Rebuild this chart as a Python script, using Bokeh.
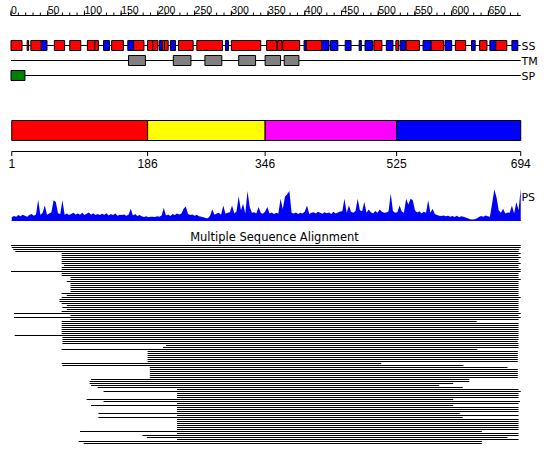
from bokeh.plotting import figure
from bokeh.models import Range1d, ColumnDataSource
from bokeh.embed import file_html
from bokeh.resources import INLINE
from bokeh.core.properties import value

SEQ_LEN = 694

# ---------------- data ----------------
ruler_minor = list(range(0, 700, 10))
ruler_major = list(range(0, 700, 50))

ss_start = [1, 23, 28, 42, 60, 81, 105, 115, 127, 138, 160, 168, 187, 194, 203, 207, 210, 218,
            229, 254, 293, 301, 349, 364, 371, 400, 403, 424, 436, 456, 475, 483, 495, 512,
            525, 531, 539, 562, 573, 592, 606, 628, 639, 653, 661, 683]
ss_end = [15, 24, 42, 49, 73, 95, 115, 119, 134, 153, 168, 181, 194, 200, 206, 210, 214, 224,
          248, 288, 296, 340, 362, 369, 393, 403, 424, 433, 445, 463, 477, 492, 505, 520,
          528, 537, 556, 572, 589, 600, 619, 632, 648, 661, 675, 690]
ss_type = ["H", "H", "H", "E", "H", "H", "H", "H", "E", "H", "E", "H", "H", "H", "E", "H", "H", "E",
           "H", "H", "E", "H", "H", "H", "H", "E", "H", "E", "E", "E", "E", "E", "H", "E",
           "H", "E", "H", "E", "H", "E", "H", "E", "H", "E", "H", "E"]

tm_start = [161, 222, 265, 311, 347, 373]
tm_end = [183, 245, 287, 333, 367, 392]

sp_start = [1]
sp_end = [19]

dom_start = [1, 186, 346, 525]
dom_end = [186, 346, 525, 694]
dom_color = ["#FF0000", "#FFFF00", "#FF00FF", "#0000FF"]
dom_ticks = [1, 186, 346, 525, 694]

ps_pos = list(range(1, 695, 3))
ps_val = [10, 14, 12, 17, 13, 18, 15, 12, 17, 20,
          15, 19, 65, 17, 24, 47, 18, 22, 26, 63,
          58, 23, 20, 63, 18, 22, 17, 20, 24, 19,
          22, 18, 24, 17, 21, 25, 18, 23, 17, 20,
          17, 21, 18, 23, 16, 20, 17, 22, 15, 18,
          17, 19, 15, 18, 37, 16, 20, 14, 17, 13,
          11, 13, 10, 12, 12, 11, 13, 12, 16, 39,
          16, 19, 14, 20, 17, 22, 19, 22, 37, 44,
          20, 17, 19, 15, 18, 13, 12, 10, 8, 7,
          15, 35, 18, 22, 24, 18, 47, 21, 24, 26,
          47, 22, 28, 76, 32, 52, 22, 92, 42, 24,
          26, 22, 42, 24, 21, 28, 42, 22, 25, 20,
          24, 22, 68, 36, 74, 82, 92, 24, 22, 25,
          20, 24, 22, 28, 47, 20, 24, 26, 22, 27,
          24, 21, 26, 23, 25, 20, 27, 22, 25, 28,
          29, 68, 24, 47, 27, 24, 30, 68, 32, 29,
          58, 24, 34, 26, 22, 30, 24, 34, 27, 24,
          25, 28, 84, 30, 24, 26, 47, 28, 24, 68,
          50, 68, 63, 32, 25, 29, 22, 27, 24, 63,
          24, 37, 20, 17, 15, 14, 16, 13, 15, 12,
          14, 11, 15, 10, 13, 12, 9, 7, 4, 3,
          4, 6, 11, 14, 12, 16, 13, 12, 52, 97,
          73, 32, 24, 37, 22, 25, 24, 47, 22, 58,
          32, 100]

msa_start = [1, 2, 4, 7, 70, 70, 70, 70, 70, 70,
             73, 70, 70, 1, 70, 70, 82, 82, 77, 82,
             82, 82, 82, 82, 70, 77, 70, 67, 67, 70,
             77, 71, 77, 70, 5, 82, 5, 82, 70, 70,
             70, 70, 70, 70, 70, 6, 71, 71, 71, 71,
             212, 208, 70, 187, 187, 187, 187, 187, 187, 70,
             71, 190, 190, 190, 190, 190, 190, 110, 108, 108,
             110, 119, 227, 127, 227, 227, 227, 104, 127, 227,
             110, 227, 227, 227, 120, 227, 120, 227, 227, 227,
             227, 227, 227, 95, 227, 180, 186, 227, 93, 100]
msa_end = [694, 694, 692, 691, 694, 691, 694, 691, 691, 694,
           691, 691, 694, 694, 691, 691, 691, 694, 691, 691,
           691, 691, 691, 691, 691, 691, 694, 691, 691, 691,
           691, 691, 691, 691, 694, 691, 694, 691, 634, 691,
           691, 691, 691, 691, 691, 691, 691, 691, 690, 691,
           691, 691, 635, 690, 690, 690, 690, 690, 690, 504,
           616, 676, 690, 690, 690, 690, 690, 624, 624, 602,
           583, 615, 691, 694, 691, 691, 691, 602, 693, 691,
           602, 691, 691, 691, 611, 691, 615, 691, 691, 691,
           691, 691, 691, 641, 691, 691, 676, 691, 641, 641]

# ---------------- figure ----------------
W, H = 548, 460
p = figure(width=W, height=H, output_backend="svg", toolbar_location=None,
           x_range=Range1d(-14.3, 731.8), y_range=Range1d(H, 0),
           min_border=0, outline_line_color=None)
p.axis.visible = False
p.grid.visible = False
p.background_fill_color = "white"
p.border_fill_color = "white"

p.extra_y_ranges = {"ps": Range1d(-750, 687.5), "msa": Range1d(107.5, -122.5)}

FONT = value("Liberation Sans")
FONT2 = value("DejaVu Sans")

# ruler
p.segment(x0=[0], y0=[15], x1=[SEQ_LEN], y1=[15], line_color="black", line_width=1)
p.segment(x0=ruler_minor, y0=[12] * len(ruler_minor), x1=ruler_minor, y1=[15] * len(ruler_minor),
          line_color="black", line_width=1)
p.segment(x0=ruler_major, y0=[10] * len(ruler_major), x1=ruler_major, y1=[15] * len(ruler_major),
          line_color="black", line_width=1)
p.text(x=ruler_major, y=[9.5] * len(ruler_major), text=[str(v) for v in ruler_major],
       text_font=FONT, text_font_size="10.5px", text_align="left",
       text_baseline="alphabetic", text_color="black")

# tracks
track_y = {"SS": 45, "TM": 60, "SP": 75}
for name, yy in track_y.items():
    p.segment(x0=[0], y0=[yy], x1=[SEQ_LEN], y1=[yy], line_color="black", line_width=1)
    p.text(x=[SEQ_LEN + 1], y=[yy + 0.5], text=[name], text_font=FONT2, text_font_size="11px",
           text_align="left", text_baseline="middle", text_color="black")

ss_src = ColumnDataSource(dict(
    left=[s - 1 for s in ss_start], right=ss_end,
    top=[track_y["SS"] - 5] * len(ss_start), bottom=[track_y["SS"] + 5] * len(ss_start),
    color=["#FF0000" if t == "H" else "#0000FF" for t in ss_type]))
p.quad(left="left", right="right", top="top", bottom="bottom", fill_color="color",
       line_color="black", line_width=1, source=ss_src)

p.quad(left=[s - 1 for s in tm_start], right=tm_end, top=[track_y["TM"] - 5] * len(tm_start),
       bottom=[track_y["TM"] + 5] * len(tm_start), fill_color="#808080", line_color="black", line_width=1)
p.quad(left=[s - 1 for s in sp_start], right=sp_end, top=[track_y["SP"] - 5] * len(sp_start),
       bottom=[track_y["SP"] + 5] * len(sp_start), fill_color="#008000", line_color="black", line_width=1)

# domains
p.quad(left=dom_start, right=dom_end, top=[120] * 4, bottom=[140] * 4, fill_color=dom_color,
       line_color="black", line_width=1)
p.segment(x0=[dom_ticks[0]], y0=[151], x1=[dom_ticks[-1]], y1=[151], line_color="black", line_width=1)
p.segment(x0=dom_ticks, y0=[151] * 5, x1=dom_ticks, y1=[155.5] * 5, line_color="black", line_width=1)
p.text(x=dom_ticks, y=[158] * 5, text=[str(v) for v in dom_ticks], text_font=FONT,
       text_font_size="12px", text_align="center", text_baseline="top", text_color="black")

# PS profile
p.varea(x=ps_pos, y1=[0] * len(ps_pos), y2=ps_val, y_range_name="ps", fill_color="#0000FF")
p.segment(x0=[1], y0=[0], x1=[SEQ_LEN], y1=[0], y_range_name="ps", line_color="#0000FF", line_width=1)
p.text(x=[SEQ_LEN + 1], y=[197], text=["PS"], text_font=FONT2, text_font_size="11px",
       text_align="left", text_baseline="middle", text_color="black")

# MSA
p.text(x=[358.7], y=[236], text=["Multiple Sequence Alignment"], text_font=FONT2,
       text_font_size="11.5px", text_align="center", text_baseline="middle", text_color="black")
rows = list(range(len(msa_start)))
p.segment(x0=[s - 1 for s in msa_start], y0=rows, x1=msa_end, y1=rows, y_range_name="msa",
          line_color="black", line_width=1)

open("out.html", "w").write(file_html(p, INLINE))
